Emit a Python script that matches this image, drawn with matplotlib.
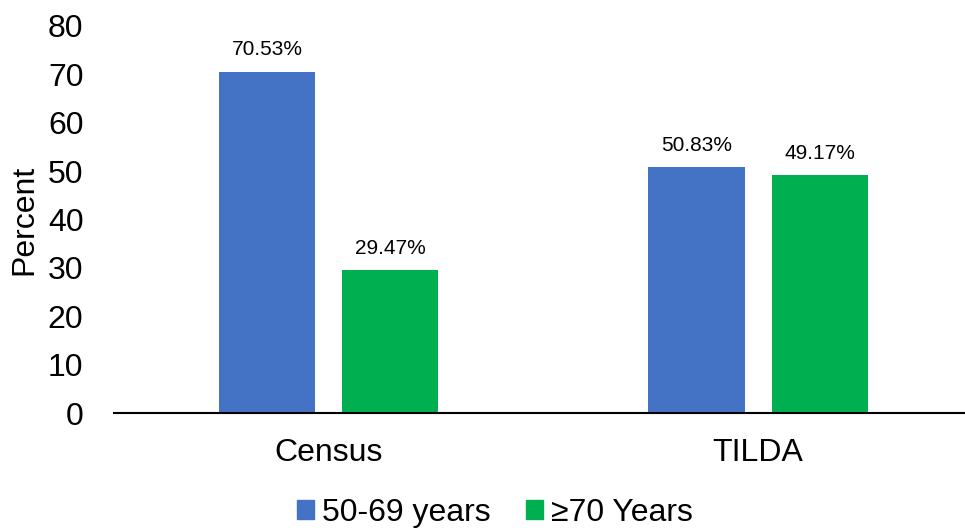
import matplotlib

matplotlib.use("Agg")
import matplotlib.pyplot as plt
import numpy as np
from matplotlib.patches import Patch

plt.rcParams["font.family"] = ["Liberation Sans", "DejaVu Sans"]

categories = ["Census", "TILDA"]
series_names = ["50-69 years", "\u226570 Years"]
age_50_69 = [70.53, 50.83]
age_70_plus = [29.47, 49.17]
y_ticks = [0, 10, 20, 30, 40, 50, 60, 70, 80]

colors = ["#4472C4", "#00B050"]

fig = plt.figure(figsize=(9.65, 5.28), dpi=100)
ax = fig.add_axes([0.1181, 0.2178, 0.890, 0.733])

x = np.arange(len(categories))
width = 0.224
offset = 0.1434
for vals, dx, color in [(age_50_69, -offset, colors[0]), (age_70_plus, offset, colors[1])]:
    bars = ax.bar(x + dx, vals, width=width, color=color, zorder=2)
    for b, v in zip(bars, vals):
        ax.annotate(f"{v:.2f}%", (b.get_x() + b.get_width() / 2, v),
                    xytext=(0, 9), textcoords="offset points",
                    ha="center", va="bottom", fontsize=15)

ax.set_xlim(-0.5, 1.5)
ax.set_ylim(0, 80)
ax.set_yticks(y_ticks)
ax.set_xticks(x)
ax.set_xticklabels(categories)
ax.tick_params(axis="y", length=0, pad=22, labelsize=23)
ax.tick_params(axis="x", length=0, pad=18, labelsize=23)
ax.set_ylabel("Percent", fontsize=23, labelpad=6)
for s in ["top", "right", "left"]:
    ax.spines[s].set_visible(False)
ax.spines["bottom"].set_linewidth(1.5)
ax.spines["bottom"].set_zorder(3)

handles = [Patch(color=c) for c in colors]
fig.legend(handles, series_names, loc="center", bbox_to_anchor=(0.513, 0.028),
           ncol=2, frameon=False, fontsize=23, handlelength=0.53,
           handleheight=0.53, handletextpad=0.25, columnspacing=1.1)

fig.savefig("out.png", dpi=100)
